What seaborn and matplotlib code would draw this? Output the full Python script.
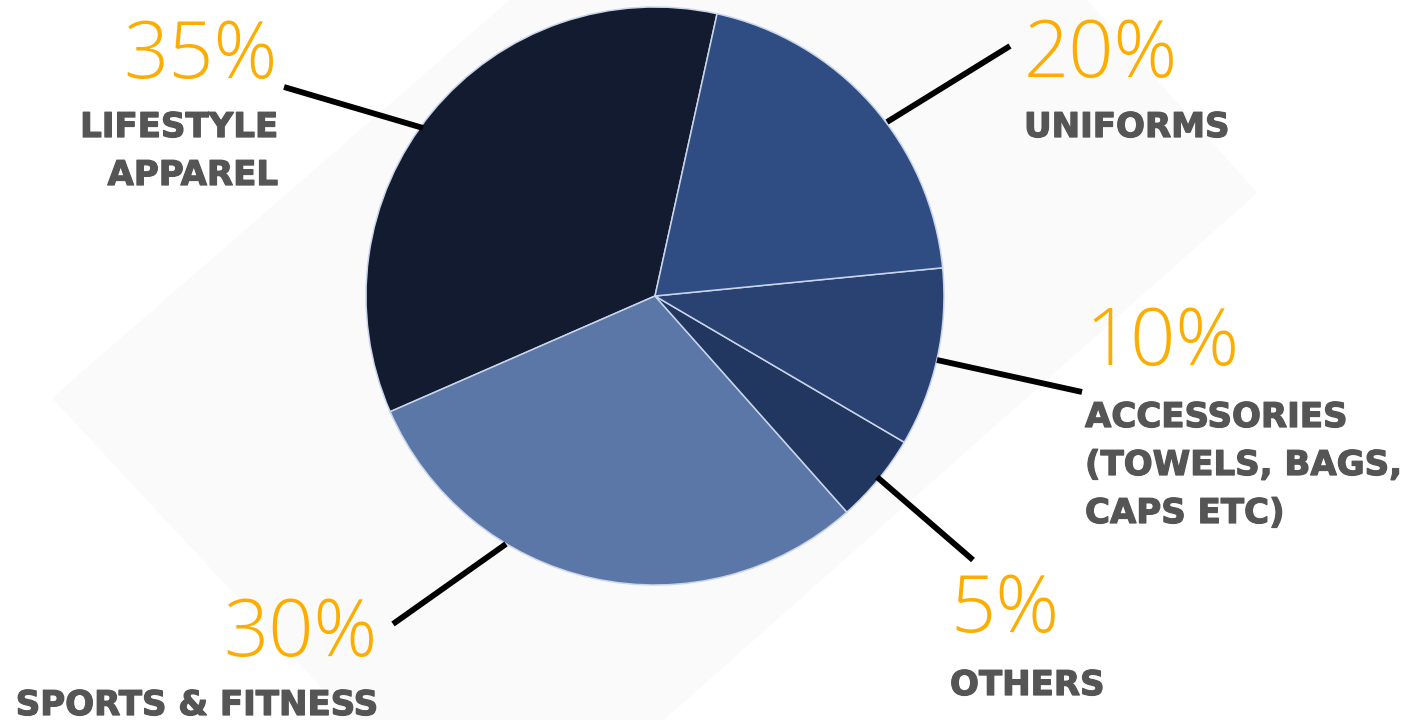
import matplotlib
matplotlib.use("Agg")
import matplotlib.pyplot as plt
from matplotlib.patches import Polygon
import matplotlib.patheffects as pe
import seaborn as sns

# ---- data ----
categories = ["LIFESTYLE\nAPPAREL", "SPORTS & FITNESS", "OTHERS",
              "ACCESSORIES\n(TOWELS, BAGS,\nCAPS ETC)", "UNIFORMS"]
shares = [35, 30, 5, 10, 20]
slice_colors = ["#121B2F", "#5B77A8", "#22375F", "#2A4272", "#2F4D82"]

# ---- style ----
sns.set_theme(style="white")
plt.rcParams["font.family"] = ["DejaVu Sans"]

W, H = 1416, 720
fig = plt.figure(figsize=(W / 100, H / 100), dpi=100)
ax = fig.add_axes([0, 0, 1, 1])
fig.patch.set_facecolor("white")
ax.set_facecolor("white")


def P(x, y):
    """pixel (y down) -> data (y up)"""
    return (x, H - y)


# background tilted rectangle
bg = Polygon([P(52, 398), P(836, -284), P(1257, 193), P(493, 872)],
             closed=True, facecolor="#FAFAFA", edgecolor="none", zorder=0)
ax.add_patch(bg)

palette = sns.color_palette(slice_colors)
cx, cy = P(655, 296)
ax.pie(shares, colors=palette, startangle=77.6, counterclock=True,
       center=(cx, cy), radius=289,
       wedgeprops=dict(edgecolor="#C9D5EA", linewidth=1.1, antialiased=True))

# leader lines (pixel coordinates of ends)
leaders = {
    "LIFESTYLE\nAPPAREL": [(423, 128), (284, 87)],
    "UNIFORMS": [(887, 122), (1010, 46)],
    "ACCESSORIES\n(TOWELS, BAGS,\nCAPS ETC)": [(937, 360), (1082, 392)],
    "OTHERS": [(877, 477), (973, 560)],
    "SPORTS & FITNESS": [(506, 544), (393, 624)],
}
# label anchors: (x, pct baseline, first label baseline, ha)
anchors = {
    "LIFESTYLE\nAPPAREL": (278, 78, 137, "right"),
    "UNIFORMS": (1024, 77, 137, "left"),
    "ACCESSORIES\n(TOWELS, BAGS,\nCAPS ETC)": (1085, 365, 427, "left"),
    "OTHERS": (950, 632, 695, "left"),
    "SPORTS & FITNESS": (378, 656, 715, "right"),
}

label_color = "#555555"
for cat, val in zip(categories, shares):
    (x0, y0), (x1, y1) = leaders[cat]
    a, b = P(x0, y0), P(x1, y1)
    ax.plot([a[0], b[0]], [a[1], b[1]], color="black", lw=4.2,
            solid_capstyle="butt", zorder=3)
    x, pb, lb, ha = anchors[cat]
    ax.text(*P(x, pb), f"{val}%", ha=ha, va="baseline", color="#FDAD00",
            fontsize=57, family=["Open Sans", "DejaVu Sans"], fontweight="light",
            zorder=4)
    for i, line in enumerate(cat.split("\n")):
        ax.text(*P(x, lb + i * 48), line, ha=ha, va="baseline",
                color=label_color, fontsize=24.5, fontweight="bold",
                family=["DejaVu Sans"], zorder=4,
                path_effects=[pe.withStroke(linewidth=0.9, foreground=label_color)])

ax.set_xlim(0, W)
ax.set_ylim(0, H)
ax.set_aspect("equal")
ax.axis("off")

fig.savefig("out.png", dpi=100, facecolor="white")
